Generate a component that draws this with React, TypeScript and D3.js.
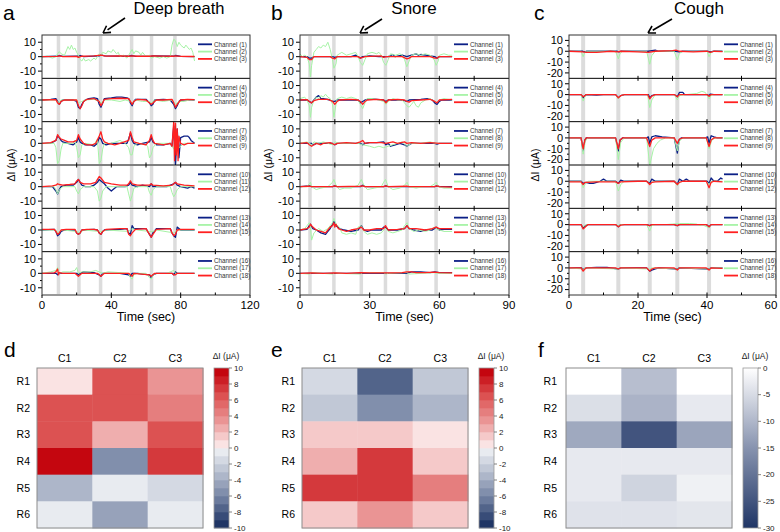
import React from 'react';
import * as d3 from 'd3';

const FONT = "'Liberation Sans', Arial, Helvetica, sans-serif";

// ---------- DATA ----------
const eventsA = [9.5, 21.3, 33.8, 51.7, 63.2, 76.7];
const eventsB = [4.3, 14.6, 26.4, 36.8, 46.1, 58.6];
const eventsC = [4.1, 14.3, 23.4, 31.4, 40.6];

const ticksA = [0, 40, 80, 120];
const ticksB = [0, 30, 60, 90];
const ticksC = [0, 20, 40, 60];

const channelLabels = Array.from({ length: 18 }, (_, i) => `Channel (${i + 1})`);

// flat [t, v, t, v, ...] series, channel 1..18
const seriesA: number[][] = [
  [0,0, 9,0.3, 10,0.8, 12,0.2, 21,0.3, 22,0.8, 24,0, 33,0.5, 34,1.2, 36,0.5, 50,0.3, 52,0.8, 54,0.2, 63,0.3, 64,0.6, 76,0.3, 77,0.8, 80,0.2, 88,0],
  [0,-0.5, 3,0.5, 6,-1, 8,0, 9,2, 10,3.5, 11,2, 13,1, 14,4, 15,7, 16,5, 17,8, 18,5, 19,6, 20,3, 21,1, 22,-2, 23,-3, 24,-1, 25,-3, 27,-2, 28,-3, 30,-1, 31,-2, 32,0, 33,2, 34,1, 35,3, 37,2, 38,4, 40,3, 41,5, 43,2, 44,3, 45,0, 47,1, 49,-1, 50,1, 51,3, 52,5, 53,2, 54,4, 56,3, 57,1, 58,3, 60,0, 62,1, 63,-1, 65,0, 68,-1, 70,0, 72,-1, 74,0, 75,8, 76,12, 77,11, 78,7, 79,10, 80,8, 82,6, 83,8, 85,5, 86,6, 87,3, 88,-3],
  [0,0, 9,0.2, 10,0.6, 12,0, 20,0.2, 21,-0.5, 23,0.3, 30,0.5, 34,1, 37,0.4, 45,0.5, 50,0.3, 52,0.6, 55,0.3, 62,0.3, 64,0.5, 70,0.4, 76,0.3, 77,0.6, 80,0.2, 88,0.1],
  [0,0, 5,0.5, 8,1, 9,-1, 10,-3, 11,-1, 12,0, 18,0, 20,-1, 21,-5, 22,-6, 23,-3, 24,-1, 25,0, 27,1, 30,1.5, 32,1, 33,-3, 34,-5, 35,-2, 36,1, 40,1.5, 43,2, 46,2, 49,1.5, 50,1, 51,-2, 52,-4, 53,-1, 54,0.5, 57,0.5, 60,0.5, 62,-2, 63,-4, 64,-3, 65,0, 70,0.5, 74,0, 76,-3, 77,-6, 78,-4, 79,-1, 80,0, 84,0.3, 88,0],
  [0,0, 8,0, 9,-1, 10,-2, 11,0, 20,0, 21,-2, 23,-1, 25,0, 30,0.5, 33,-1, 34,-2, 36,0, 40,0, 45,-1, 48,0, 51,-1, 52,-2, 54,0, 58,-1, 62,-1, 63,-2, 65,0, 70,-1, 75,0, 77,-3, 79,-1, 82,-1, 85,0, 88,0],
  [0,0, 8,0.3, 9,-2, 10,-3, 11,-1, 13,0, 20,0, 21,-4, 22,-6, 23,-4, 24,-1, 26,0.5, 30,1, 33,-1, 34,-4, 35,-2, 36,0.5, 40,1, 45,1.2, 50,1, 51,-1, 52,-3, 53,-1, 55,0.5, 60,0, 62,-2, 63,-3, 64,-2, 66,0, 70,0, 75,0.5, 76,-2, 77,-5, 78,-3, 80,0, 84,0.5, 88,0.3],
  [0,0, 5,0, 8,2, 9,5, 10,4, 11,2, 12,1, 15,0, 18,-1, 20,1, 21,4, 22,1, 23,0, 25,-1, 28,-1, 30,-2, 32,0, 33,4, 34,3, 35,0, 37,-1, 40,0, 45,0, 49,0, 50,3, 51,7, 52,2, 53,0, 55,-1, 58,0, 62,1, 63,4, 64,1, 66,-1, 70,-1, 74,0, 75,-2, 76,12, 77,-15, 78,10, 79,-10, 80,4, 82,5, 84,5, 85,4, 86,2, 88,0],
  [0,0, 7,0, 8,-3, 9,-14, 10,-12, 11,-4, 12,0, 18,0, 19,2, 20,-3, 21,-10, 22,-8, 23,-1, 25,0, 30,-1, 32,3, 33,-14, 34,-12, 35,-4, 36,0, 40,0, 45,2, 48,0, 50,-3, 51,-8, 52,-8, 53,-2, 55,0, 60,-1, 61,-2, 62,-10, 63,-8, 64,-3, 66,0, 70,0, 74,0, 76,-4, 77,2, 79,-3, 82,0, 88,0],
  [0,0, 5,0.5, 8,2, 9,6, 10,4, 11,3, 13,2, 15,1, 18,1, 20,2, 21,6, 22,3, 24,0, 26,-1, 29,-1, 31,0, 33,5, 34,8, 35,3, 36,1, 38,0, 42,-1, 45,0, 50,2, 51,8, 52,4, 53,1, 56,0, 60,-1, 62,2, 63,6, 64,2, 65,0, 70,-1, 74,0, 75,-2, 76,15, 76.5,-12, 77,14, 77.5,-8, 78,10, 78.5,-12, 79,5, 80,0, 82,-1, 84,0, 88,0],
  [0,0, 6,0, 8,-3, 9,-5, 10,-2, 11,0, 14,1, 18,1, 20,3, 21,5, 22,3, 23,1, 25,0, 28,0, 30,1, 32,3, 33,5, 34,4, 36,2, 38,-1, 40,-3, 41,-2, 43,0, 48,0, 50,1, 51,3, 52,1, 55,0, 58,1, 62,0, 63,2, 64,0, 68,0, 72,0, 76,2, 77,3, 78,1, 80,0, 84,-1, 86,0, 88,-1],
  [0,0, 7,0, 8,-2, 9,-5, 10,-2, 12,0, 19,0, 20,-3, 21,-5, 22,-2, 24,0, 30,0, 32,-3, 33,-10, 34,-8, 35,-3, 37,0, 45,0, 49,0, 50,-5, 51,-10, 52,-6, 53,-1, 55,0, 61,0, 62,-4, 63,-6, 64,-2, 66,0, 74,0, 75,-4, 76,-7, 77,-5, 78,-2, 80,0, 88,0],
  [0,0, 6,0.5, 8,1, 9,2, 10,1.5, 12,1, 16,1.5, 19,2, 20,4, 21,5, 22,3, 24,2, 28,2, 31,3, 32,5, 33,7, 34,6, 36,3, 40,2, 45,1, 49,1, 50,2, 51,4, 52,2, 55,1, 60,1, 62,1, 63,2, 64,1, 70,0.5, 75,1, 76,2, 77,3, 78,2, 82,1, 88,0.5],
  [0,0, 7,0.5, 8,-1, 9,-4, 10,-3, 11,-1, 13,0, 19,0, 20,-2, 21,-3, 22,-2, 23,0, 30,0.5, 32,0, 33,-2, 34,-3, 35,-1, 36,0, 45,0.5, 49,1, 50,-2, 51,-3, 52,3, 53,1, 55,1, 60,1, 62,-3, 63,-5, 64,-2, 66,1, 74,1, 75,-2, 76,-4, 77,-5, 78,2, 79,1, 80,0, 88,0],
  [0,0, 8,0, 9,-2, 10,-1, 12,0, 20,-1, 22,-2, 24,0, 33,-1, 35,-1, 37,0, 50,-1, 52,1, 55,0, 62,-1, 64,-1, 66,0, 76,-2, 78,0, 88,0],
  [0,0.5, 7,0.5, 8,-1, 9,-3, 10,-2, 11,0, 14,0.5, 19,0.5, 20,-2, 21,-3, 22,-2, 23,0, 26,0.5, 30,0.5, 32,0, 33,-2, 34,-3, 35,-1, 37,0.5, 45,1, 49,1, 50,-3, 51,-4, 52,-2, 54,0.5, 60,1, 62,-3, 63,-5, 64,-3, 66,0.5, 74,1, 75,-2, 76,-4, 77,-3, 78,0, 80,0.5, 88,0.5],
  [0,0, 8,0, 9,-1, 10,0, 20,0, 21,-1, 22,0, 24,1, 30,0.5, 33,-1, 34,-2, 35,0, 45,0, 50,-1, 51,-2, 52,0, 55,0, 62,-1, 63,-3, 64,-1, 66,0, 75,0, 76,-1, 77,1, 78,0, 88,0],
  [0,0, 5,1, 8,2, 9,4, 10,0, 12,1, 16,1, 19,2, 20,4, 21,0, 23,1, 28,1, 31,2, 33,1, 35,0, 38,1, 45,0.5, 50,0, 51,-3, 52,-4, 53,-1, 55,0, 60,0, 62,-3, 63,-4, 64,-1, 66,0, 72,0, 74,1, 76,2, 77,0, 80,0, 88,0],
  [0,0, 7,0.3, 8,1, 9,3, 9.5,-1, 10,0.5, 12,0, 19,0, 20,-1, 21,-2, 22,-1, 23,0, 32,0, 33,-1, 34,-2, 35,-1, 36,0, 50,0, 51,-1, 52,-2, 53,0, 62,-1, 63,-2, 64,-1, 65,0, 75,0, 76,-1, 77,-1, 78,0, 88,0],
];

const seriesB: number[][] = [
  [0,0, 3,0, 4,-1, 5,-1, 6,0, 14,0, 15,-0.5, 16,0, 22,0, 24,1, 25,0, 26,-1, 27,0, 30,0.5, 34,0, 38,0, 40,1.5, 41,0, 44,1, 46,0, 48,1, 50,2, 51,1, 52,1.5, 54,1, 56,0.5, 58,0, 59,-1, 60,0, 65.5,0],
  [0,2, 1,0, 2,1, 3,0, 4,-5, 4.5,-14, 5,-6, 6,3, 7,5, 8,7, 9,6, 10,8, 11,7, 12,10, 13,5, 14,-2, 14.6,-8, 15.5,-5, 16,1, 18,3, 20,1, 22,2, 24,3, 25,0, 26,-4, 27,-6, 28,-2, 29,2, 31,3, 33,2, 34,3, 35,1, 36,-4, 37,-6, 38,-2, 39,2, 41,1, 43,2, 44,1, 45,-2, 46,-7, 47,-3, 48,1, 50,2, 52,1, 54,2, 56,1, 57,0, 58,-3, 58.6,-6, 59.5,-3, 60,1, 62,2, 64,1, 65.5,1],
  [0,0, 3,-0.5, 4,-2, 5,-2, 6,0, 13,0, 14,-1, 15,-1.5, 16,0, 25,0, 26,-1, 27,-0.5, 28,0, 35,0.5, 36,-0.5, 37,0, 40,0, 44,0, 46,-1.5, 47,-1, 48,0, 52,0, 56,0, 58,-1, 59,-1, 60,0, 65.5,0],
  [0,0, 3,0, 4,-1, 5,-2, 6,0, 7,2, 8,3, 9,1, 10,1, 13,0, 14,-1, 15,-1, 16,0, 25,0, 26,-2, 27,-1, 28,0, 30,1, 33,0.5, 36,0, 37,-1, 38,0, 44,0, 46,-1, 47,0, 52,0.5, 55,1, 57,0, 58,-2, 59,-3, 60,-1, 61,0, 65.5,0],
  [0,1, 2,2, 3,0, 4,-4, 4.5,-12, 5,-5, 6,0, 7,2, 8,1, 9,3, 10,2, 11,4, 12,2, 13,1, 14,-3, 14.6,-12, 15.5,-3, 16,1, 18,2, 20,1, 22,2, 24,1, 25,0, 26,-3, 27,-6, 28,-2, 29,1, 31,1, 34,0, 36,-1, 37,-3, 38,-1, 40,1, 42,0, 44,0, 45,-2, 46,-4, 47,-5, 48,-3, 49,-1, 50,-4, 51,-5, 52,-2, 54,0, 56,1, 57,0, 58,-1, 59,-2, 60,0, 62,1, 65.5,0],
  [0,0, 3,0.3, 4,-1, 5,-2, 6,-0.5, 8,0.5, 12,0.5, 14,-1, 15,-3, 16,-1, 17,0, 22,0.5, 25,0, 26,-1, 27,-3, 28,-1, 29,0, 33,0.5, 36,0, 37,-2, 38,0, 42,0.5, 45,0, 46,-1, 47,-1.5, 48,-0.5, 52,0, 56,0.5, 58,-1, 59,-2, 60,0, 65.5,0.5],
  [0,0, 5,0, 6,-1, 7,0, 14,0, 15,-1, 16,0, 26,0, 27,-1, 28,0, 30,0.5, 33,0.5, 36,1, 37,-1, 38,0, 39,-2, 41,-1, 43,0, 45,-1, 46,-2, 47,-1, 48,0, 58,0, 59,-0.5, 60,0, 65.5,0],
  [0,0, 3,1, 5,-1, 6,1, 8,0, 10,1, 12,0, 14,-1, 15,1, 17,0, 22,0, 25,0, 27,-1, 30,-2, 32,-3, 34,-2, 36,-3, 38,-2, 40,-1, 42,0, 44,1, 46,-2, 48,0, 52,0, 56,1, 58,0, 60,0, 65.5,0],
  [0,0, 3,0.5, 4,-1, 5,-2, 6,-1, 7,0, 9,-1, 10,0, 13,0.5, 15,-1, 16,0, 20,0.5, 24,0, 26,1, 27,2, 28,0, 30,0.5, 35,0.5, 37,0, 40,1, 42,0, 45,1, 46,0, 48,0.5, 52,0, 56,0.5, 60,0, 65.5,0],
  [0,0, 4,0.5, 5,0, 14,0, 15,0.5, 16,0, 26,0, 27,1, 28,0, 36,0, 37,0.5, 38,0, 58,0, 59,0.5, 60,0, 65.5,0],
  [0,0, 3,0, 4,2, 4.5,3, 5,0, 7,-2, 9,-1, 12,0, 14,3, 14.6,5, 15.5,1, 17,-2, 19,-1, 22,-1, 25,1, 26.4,5, 27.5,1, 29,-2, 32,-1, 35,0, 36,3, 36.8,5, 38,0, 40,-2, 43,-1, 45,1, 46.1,3, 47,0, 50,-1, 53,0, 56,0, 58,2, 58.6,3, 59.5,0, 62,-1, 65.5,-1],
  [0,0, 4,0.3, 5,0, 10,0, 14,0, 15,0.5, 16,0, 26,0.3, 27,0.5, 28,0, 36,0, 37,0.5, 38,0, 46,0.3, 47,0, 58,0, 59,0.5, 60,0, 65.5,-0.3],
  [0,0, 3,0.5, 4,3, 4.5,4, 5.5,1, 7,0, 9,-2, 11,-3, 12,-1, 13,1, 14,4, 14.6,6, 15.5,3, 17,1, 19,0, 22,-1, 25,0, 26,2, 26.4,3, 27.5,0, 29,-1, 31,0, 35,0, 36,2, 36.8,2, 38,0, 42,0, 45,1, 46.1,3, 47,1, 49,0, 52,-1, 54,0, 57,0, 58,1, 58.6,2, 60,0, 62,0.5, 65.5,0.5],
  [0,0, 2,1, 3,3, 4,5, 4.5,2, 5,-7, 6,-2, 8,1, 10,-1, 12,1, 13,3, 14,5, 14.6,8, 15.5,4, 17,2, 18,-2, 20,-3, 22,-2, 24,-3, 25,2, 26.4,3, 27.5,-1, 29,-3, 31,-2, 33,-3, 35,-2, 36,0, 36.8,1, 38,-1, 40,-2, 42,-1, 44,0, 45,3, 46.1,5, 47,1, 49,-1, 51,0, 54,-1, 56,0, 58,2, 58.6,1, 60,0, 62,-1, 65.5,-1],
  [0,0, 3,1, 4,2, 4.5,4, 5.5,2, 7,0, 9,-1, 11,-2, 12,0, 13,2, 14,3, 14.6,5, 15,2, 15.5,4, 16.5,1, 18,0, 20,-1, 22,0, 25,1, 26.4,2, 27.5,0, 30,0, 33,1, 36,1, 36.8,3, 38,0, 42,0.5, 45,1, 46.1,3, 47,1, 50,1, 54,0, 57,1, 58.6,2, 60,1, 62,1, 65.5,1],
  [0,0, 10,0, 20,0, 30,0, 40,0, 46,0, 48,1, 52,1, 56,0.5, 58,1, 60,0.5, 65.5,0.5],
  [0,0, 4,-0.5, 5,0.5, 14,-0.5, 15,0.5, 16,0, 26,-0.5, 27,0.5, 36,0.5, 37,-0.5, 38,0, 46,0.5, 47,-0.5, 58,0.5, 59,0, 65.5,0],
  [0,0, 5,0.3, 10,0, 15,0.3, 20,0, 26,0.5, 30,0.3, 40,0.3, 44,0.5, 46,1, 48,1, 50,0.5, 54,0.5, 58,0.8, 60,0.5, 65.5,0.3],
];

const seriesC: number[][] = [
  [0,0, 4,0, 4.5,-0.5, 5,0, 14,0, 14.5,-0.5, 15,0, 23,0, 24,0.5, 25,1, 26,0, 31,0, 32,-0.5, 33,0, 40,0, 41,-0.5, 42,0, 44.5,0],
  [0,0, 3.5,0, 4.1,-5, 4.6,-1, 5,0, 13.5,0, 14.3,-7, 14.8,-2, 15.5,0, 22.5,0, 23.4,-12, 24,-4, 25,0, 30.5,0, 31.4,-8, 32,-2, 33,0, 40,0, 40.6,-5, 41.2,-1, 42,0, 44.5,0],
  [0,0, 4,-0.5, 5,-1, 8,-1, 10,-0.5, 12,0, 14,-0.5, 15,0, 20,-0.5, 23,-1, 25,0, 30,0.5, 31,1, 32,0, 36,-0.5, 40,0, 41,-1, 42,0, 44.5,-0.3],
  [0,0, 3.5,0, 4.1,-3, 4.6,-1, 5,0, 8,-0.5, 10,0, 13.5,0, 14.3,-3, 15,-1, 16,0, 23,0, 23.4,-3, 24,-1, 25,0, 30.5,0, 31.4,-2, 32,2, 33,2, 33.5,0, 40,0, 40.6,-1, 41,0.5, 42,0, 44.5,0],
  [0,0, 3.5,0, 4.1,-6, 4.6,-2, 5,0, 13.5,0, 14.3,-4, 15,-1, 16,0, 22.8,0, 23.4,-12, 24,-5, 25,0, 30.5,0, 31.4,-5, 32,-1, 34,0, 37,1, 38.5,3, 39.5,2, 40.6,-4, 41.2,-1, 42,0, 44.5,0],
  [0,0, 3.5,0, 4.1,-2, 4.6,-1, 5,0, 13.5,0, 14.3,-3, 15,-1, 16,0, 22.8,0, 23.4,-4, 24,-1.5, 25,0, 30.5,0, 31.4,-2, 32,0, 40,0, 40.6,-1.5, 41.2,0, 44.5,0],
  [0,0, 3.5,0, 4.1,-12, 4.6,-2, 5,0, 13.5,0, 14.3,-12, 14.8,-2, 15.5,0, 22.5,0, 23,1, 23.4,-5, 24,1, 25,2, 27,1, 30.5,0, 31.4,-14, 31.9,-2, 32.5,0, 39.5,0, 40.2,1, 40.6,-5, 41.2,2, 42,1, 43,0, 44.5,0],
  [0,0, 3.5,0, 4.1,-15, 4.7,-3, 5.5,0, 13.5,0, 14.3,-20, 15,-4, 16,0, 22.5,0, 23.4,-25, 24.5,-10, 25.5,-5, 26.5,-2, 28,0, 30.5,0, 31.4,-12, 32,-3, 33,0, 39.8,0, 40.6,-10, 41.4,-2, 42.5,0, 44.5,0],
  [0,0, 3.5,0, 4.1,-10, 4.6,-2, 5,0, 13.5,0, 14.3,-10, 14.8,-2, 15.5,0, 22.5,0, 23.4,-8, 24,-2, 25,0, 30.5,0, 31.4,-5, 32,-1, 33,0, 39.8,0, 40.6,-8, 41.2,-2, 42,0, 44.5,0],
  [0,0, 3.5,0, 4.1,-2, 5,-1, 6,-2, 7,-2, 8,-1, 9,0, 10,2, 11,0, 13.5,0, 14.3,-2, 15,1, 16,0, 22.5,0, 23.4,-2, 24,2, 25,0, 30.5,0, 31.4,-3, 32,2, 33,0, 34,2, 35,0, 40,0, 40.6,-2, 41.2,3, 42,0, 43,0, 44,3, 44.5,2],
  [0,0, 3.5,0, 4.1,-6, 4.8,-2, 5.5,0, 13.5,0, 14.3,-9, 15,-3, 16,0, 22.5,0, 23.4,-3, 24,-1, 25,0, 30.5,0, 31.4,-4, 32,-1, 33,0, 39.8,0, 40.6,-3, 41.2,0, 44.5,0],
  [0,-0.5, 3.5,-0.5, 4.1,-3, 4.6,-1, 5,-1, 8,-0.5, 13.5,-0.5, 14.3,-2, 15,-0.5, 20,0, 22.5,0, 23.4,-3, 24,-1, 25,-0.5, 30.5,0, 31.4,-3, 32,-1, 33,0, 39.8,0, 40.6,-6, 41.2,-1, 42,0, 44.5,-0.5],
  [0,0, 3.5,0, 4.1,-3, 4.8,-1, 5.5,0, 13.5,0, 14.3,-2, 15,0, 22.5,0, 23.4,-1, 24,0, 30.5,0, 31.4,-1, 32,0, 39.8,0, 40.6,-2, 41.2,0, 44.5,0],
  [0,0, 3.5,0, 4.1,-2, 5,0, 13.5,0, 14.3,-1, 15,0, 22.5,0, 23.4,-6, 24,-1, 25,0, 28,0, 30,0.5, 32,1, 35,1, 37,0.5, 38,-1, 38.5,0, 40.6,-3, 41.2,0, 44.5,0],
  [0,0, 3.5,0, 4.1,-4, 4.8,-2, 5.5,0, 13.5,0, 14.3,-2, 15,-0.5, 16,0, 22.5,0, 23.4,-1, 24,0, 30.5,0, 31.4,-1, 32,0, 39.8,0, 40.6,-2, 41.2,0, 44.5,0],
  [0,0, 3.5,0, 4.1,-1, 5,0, 8,0.5, 11,0.5, 12,0, 14.3,-1, 15,0, 22.5,0, 23.4,-3, 24,-2, 25,-1, 26,0, 31.4,-1, 32,0, 40.6,-1, 41.2,0, 44.5,0],
  [0,0, 4.1,-1, 5,0, 14.3,-1, 15,0, 23.4,-1, 24,0, 31.4,-1, 32,0, 40.6,-1, 41.2,0, 44.5,0],
  [0,0, 3.5,0, 4.1,-3, 4.6,-1, 5,0, 13.5,0, 14.3,-1, 15,0, 22.5,0, 23.4,-3, 24,-1, 25,0, 30.5,0, 31.4,-2, 32,0, 39.8,0, 40.6,-2, 41.2,0, 44.5,-0.5],
];

const heatCols = ['C1', 'C2', 'C3'];
const heatRows = ['R1', 'R2', 'R3', 'R4', 'R5', 'R6'];
const heatD = [[0.5, 6.5, 3], [6, 6, 4.5], [6, 2.5, 6.5], [9.5, -5.5, 7], [-3.5, -1, -2], [-1, -4.5, -1]];
const heatE = [[-1.5, -7.5, -2.5], [-2.5, -5.5, -3.5], [1.5, 1.5, 0.5], [2.5, 7, 1.5], [7, 7, 4.5], [1.5, 3, 1.5]];
const heatF = [[0, -9, 0], [-4.5, -10.5, -3], [-12, -25, -12.5], [-3, -3, -3], [-3, -6, -2], [-4, -4, -3.5]];
const cbTicksDE = [10, 8, 6, 4, 2, 0, -2, -4, -6, -8, -10];
const cbTicksF = [0, -5, -10, -15, -20, -25, -30];

// ---------- STYLE ----------
const LINE_COLORS = ['#0B1F86', '#A6F3A6', '#FF2020'];
const LINE_WIDTHS = [1.3, 1.0, 1.3];

const pairs = (a: number[]): [number, number][] => {
  const r: [number, number][] = [];
  for (let i = 0; i < a.length; i += 2) r.push([a[i], a[i + 1]]);
  return r;
};

const posScale = d3.scaleLinear<string>().domain([0.5, 3.5, 6.5, 9.5]).range(['#FAE3E3', '#EA9494', '#DC5252', '#C4060F']);
const negScale = d3.scaleLinear<string>().domain([-0.5, -3.5, -6.5, -9.5]).range(['#E8EBF0', '#ADB6C9', '#6B7B9D', '#1F3565']);
const divColor = (v: number) => {
  const mid = Math.floor(v) + 0.5;
  const m = Math.max(-9.5, Math.min(9.5, mid));
  return m > 0 ? posScale(m) : negScale(m);
};
const seqScale = d3.scaleLinear<string>().domain([0, -15, -30]).range(['#FFFFFF', '#8793AF', '#1F3565']);

type StackProps = {
  id: string; x0: number; x1: number; top: number; bottom: number; xMax: number;
  xTicks: number[]; xMinorStep: number; yMin: number; yMax: number; yMajor: number[]; yMinor: number[];
  events: number[]; bandW: number; series: number[][]; legendX: number;
};

function StackPanel(p: StackProps) {
  const x = d3.scaleLinear().domain([0, p.xMax]).range([p.x0, p.x1]);
  const h = (p.bottom - p.top) / 6;
  const minorX = d3.range(p.xMinorStep, p.xMax, p.xMinorStep);
  return (
    <g>
      {d3.range(6).map((r) => {
        const t = p.top + r * h;
        const b = t + h;
        const y = d3.scaleLinear().domain([p.yMin, p.yMax]).range([b, t]);
        const line = d3.line<[number, number]>().x((d) => x(d[0])).y((d) => y(d[1]));
        return (
          <g key={r}>
            <clipPath id={`${p.id}clip${r}`}>
              <rect x={p.x0} y={t} width={p.x1 - p.x0} height={h} />
            </clipPath>
            {p.events.map((e, i) => (
              <rect key={i} x={x(e) - p.bandW / 2} y={t + 1} width={p.bandW} height={h - 2} fill="#DCDCDC" />
            ))}
            <g clipPath={`url(#${p.id}clip${r})`}>
              {[0, 1, 2].map((k) => (
                <path key={k} d={line(pairs(p.series[r * 3 + k])) || ''} fill="none"
                  stroke={LINE_COLORS[k]} strokeWidth={LINE_WIDTHS[k]} strokeLinejoin="round" />
              ))}
            </g>
            {[0, 1, 2].map((k) => {
              const ly = t + 9.3 + k * 7.3;
              return (
                <g key={k}>
                  <line x1={p.legendX} x2={p.legendX + 14} y1={ly} y2={ly} stroke={LINE_COLORS[k]} strokeWidth={1.8} />
                  <text x={p.legendX + 16} y={ly + 2.2} fontSize={6.3} fill="#333" fontFamily={FONT}>
                    {channelLabels[r * 3 + k]}
                  </text>
                </g>
              );
            })}
            {p.yMajor.map((v) => (
              <g key={v}>
                <line x1={p.x0 - 4} x2={p.x0} y1={y(v)} y2={y(v)} stroke="#000" strokeWidth={1} />
                <text x={p.x0 - 6} y={y(v) + 3.8} textAnchor="end" fontSize={11} fontFamily={FONT} fill="#000">{v}</text>
              </g>
            ))}
            {p.yMinor.map((v) => (
              <line key={v} x1={p.x0 - 2} x2={p.x0} y1={y(v)} y2={y(v)} stroke="#000" strokeWidth={1} />
            ))}
            {r > 0 && minorX.map((v) => (
              <line key={v} x1={x(v)} x2={x(v)} y1={t - 2.5} y2={t + 2.5} stroke="#000" strokeWidth={1} />
            ))}
            {r > 0 && <line x1={p.x0} x2={p.x1} y1={t} y2={t} stroke="#000" strokeWidth={1} />}
          </g>
        );
      })}
      <rect x={p.x0} y={p.top} width={p.x1 - p.x0} height={p.bottom - p.top} fill="none" stroke="#333" strokeWidth={1} />
      {minorX.map((v) => (
        <line key={v} x1={x(v)} x2={x(v)} y1={p.bottom} y2={p.bottom - 2.5} stroke="#000" />
      ))}
      {p.xTicks.map((v) => (
        <g key={v}>
          <line x1={x(v)} x2={x(v)} y1={p.bottom} y2={p.bottom + 3} stroke="#000" />
          <text x={Math.min(x(v), 771)} y={p.bottom + 14} textAnchor="middle" fontSize={11.5} fontFamily={FONT}>{v}</text>
        </g>
      ))}
      <text x={(p.x0 + p.x1) / 2} y={p.bottom + 26} textAnchor="middle" fontSize={12.5} fontFamily={FONT}>Time (sec)</text>
    </g>
  );
}

type HeatProps = {
  x0: number; x1: number; y0: number; y1: number; values: number[][]; color: (v: number) => string;
  cbX: number; rowLabelGap: number; discrete: boolean; cbMin: number; cbMax: number; cbTicks: number[]; gid: string;
};

function Heatmap(p: HeatProps) {
  const xb = d3.scaleBand<string>().domain(heatCols).range([p.x0, p.x1]);
  const yb = d3.scaleBand<string>().domain(heatRows).range([p.y0, p.y1]);
  const cy = d3.scaleLinear().domain([p.cbMin, p.cbMax]).range([p.y1, p.y0]);
  const cbW = 15;
  const gradStops = d3.range(0, 1.0001, 0.1);
  return (
    <g fontFamily={FONT}>
      {heatRows.map((r, i) => heatCols.map((c, j) => (
        <rect key={r + c} x={xb(c)} y={yb(r)} width={xb.bandwidth() + 0.5} height={yb.bandwidth() + 0.5} fill={p.color(p.values[i][j])} />
      )))}
      <rect x={p.x0} y={p.y0} width={p.x1 - p.x0} height={p.y1 - p.y0} fill="none" stroke="#8C8C8C" strokeWidth={1} />
      {heatCols.map((c) => (
        <text key={c} x={(xb(c) as number) + xb.bandwidth() / 2} y={p.y0 - 6} textAnchor="middle" fontSize={10.5}>{c}</text>
      ))}
      {heatRows.map((r) => (
        <text key={r} x={p.x0 - p.rowLabelGap} y={(yb(r) as number) + yb.bandwidth() / 2 + 3.8} textAnchor="end" fontSize={10.5}>{r}</text>
      ))}
      {p.discrete ? (
        d3.range(p.cbMin, p.cbMax, 1).map((k) => (
          <rect key={k} x={p.cbX} y={cy(k + 1)} width={cbW} height={cy(k) - cy(k + 1) + 0.3} fill={p.color(k + 0.5)} />
        ))
      ) : (
        <g>
          <defs>
            <linearGradient id={p.gid} x1="0" y1="0" x2="0" y2="1">
              {gradStops.map((s) => (
                <stop key={s} offset={s} stopColor={p.color(p.cbMax - s * (p.cbMax - p.cbMin))} />
              ))}
            </linearGradient>
          </defs>
          <rect x={p.cbX} y={p.y0} width={cbW} height={p.y1 - p.y0} fill={`url(#${p.gid})`} />
        </g>
      )}
      <rect x={p.cbX} y={p.y0} width={cbW} height={p.y1 - p.y0} fill="none" stroke="#9A9A9A" strokeWidth={0.8} />
      {p.cbTicks.map((v) => (
        <g key={v}>
          <line x1={p.cbX + cbW} x2={p.cbX + cbW + 3} y1={cy(v)} y2={cy(v)} stroke="#666" strokeWidth={0.8} />
          <text x={p.cbX + cbW + 5} y={cy(v) + 2.8} fontSize={8} fill="#222">{v}</text>
        </g>
      ))}
      <text x={p.cbX + 12} y={p.y0 - 9} textAnchor="middle" fontSize={8.5} fill="#222">ΔI (μA)</text>
    </g>
  );
}

function Arrow({ x1, y1, x2, y2 }: { x1: number; y1: number; x2: number; y2: number }) {
  const ang = Math.atan2(y2 - y1, x2 - x1);
  const L = 7, Wd = 4;
  const bx = x2 - L * Math.cos(ang), by = y2 - L * Math.sin(ang);
  const px = -Math.sin(ang) * Wd, py = Math.cos(ang) * Wd;
  return (
    <g>
      <line x1={x1} y1={y1} x2={bx + 1.5 * Math.cos(ang)} y2={by + 1.5 * Math.sin(ang)} stroke="#000" strokeWidth={1.6} />
      <path d={`M${x2},${y2} L${bx + px},${by + py} M${x2},${y2} L${bx - px},${by - py}`} stroke="#000" strokeWidth={1.6} fill="none" />
    </g>
  );
}

export default function App() {
  const common = { top: 35, bottom: 295 };
  return (
    <svg width={780} height={532} style={{ position: 'absolute', left: 0, top: 0, background: '#fff' }} fontFamily={FONT}>
      <rect width={780} height={532} fill="#fff" />
      <text x={3} y={20} fontSize={21}>a</text>
      <text x={271} y={20} fontSize={21}>b</text>
      <text x={534} y={20} fontSize={21}>c</text>
      <text x={4} y={357} fontSize={21}>d</text>
      <text x={271} y={357} fontSize={21}>e</text>
      <text x={538} y={357} fontSize={21}>f</text>
      <text x={179} y={14} textAnchor="middle" fontSize={16.5}>Deep breath</text>
      <text x={414} y={14} textAnchor="middle" fontSize={17}>Snore</text>
      <text x={699} y={14} textAnchor="middle" fontSize={17}>Cough</text>
      <Arrow x1={125} y1={18} x2={103} y2={33} />
      <Arrow x1={382} y1={19} x2={360} y2={33} />
      <Arrow x1={672} y1={19} x2={648} y2={33} />
      {[11, 268, 535].map((cx) => (
        <text key={cx} transform={`translate(${cx},165) rotate(-90)`} textAnchor="middle" dy="0.35em" fontSize={10.5}>ΔI (μA)</text>
      ))}
      <StackPanel id="pa" x0={42} x1={250} {...common} xMax={120} xTicks={ticksA} xMinorStep={20}
        yMin={-15} yMax={15} yMajor={[10, 0, -10]} yMinor={[5, -5]} events={eventsA} bandW={3.5}
        series={seriesA} legendX={198} />
      <StackPanel id="pb" x0={300} x1={509} {...common} xMax={90} xTicks={ticksB} xMinorStep={15}
        yMin={-15} yMax={15} yMajor={[10, 0, -10]} yMinor={[5, -5]} events={eventsB} bandW={3.5}
        series={seriesB} legendX={454} />
      <StackPanel id="pc" x0={569} x1={776} {...common} xMax={60} xTicks={ticksC} xMinorStep={10}
        yMin={-25} yMax={15} yMajor={[10, 0, -10, -20]} yMinor={[5, -5, -15]} events={eventsC} bandW={4}
        series={seriesC} legendX={724} />
      <Heatmap x0={37} x1={203} y0={368} y1={528} values={heatD} color={divColor} cbX={214}
        rowLabelGap={7} discrete cbMin={-10} cbMax={10} cbTicks={cbTicksDE} gid="gd" />
      <Heatmap x0={302} x1={468} y0={368} y1={528} values={heatE} color={divColor} cbX={479}
        rowLabelGap={7} discrete cbMin={-10} cbMax={10} cbTicks={cbTicksDE} gid="ge" />
      <Heatmap x0={566} x1={732} y0={368} y1={528} values={heatF} color={(v: number) => seqScale(v)} cbX={743}
        rowLabelGap={9} discrete={false} cbMin={-30} cbMax={0} cbTicks={cbTicksF} gid="gf" />
    </svg>
  );
}
